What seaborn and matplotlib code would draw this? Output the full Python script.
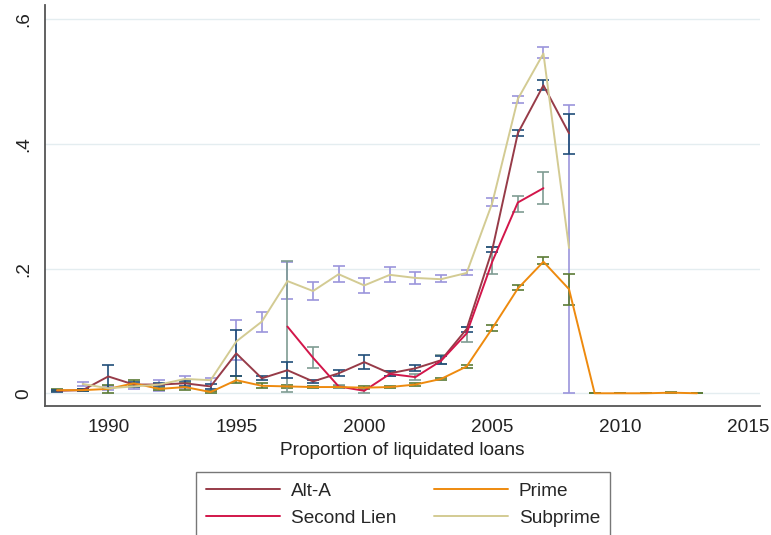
import numpy as np
import pandas as pd
import matplotlib
matplotlib.use("Agg")
import matplotlib.pyplot as plt
import seaborn as sns
from matplotlib.lines import Line2D

# ---------------- data ----------------
alta_years = list(range(1988, 2009))
alta_val = [0.004, 0.005, 0.027, 0.014, 0.014, 0.016, 0.011, 0.064, 0.024, 0.037,
            0.019, 0.032, 0.050, 0.032, 0.040, 0.053, 0.103, 0.230, 0.417, 0.494, 0.417]
alta_lo = [0.002, 0.003, 0.009, 0.010, 0.011, 0.012, 0.007, 0.028, 0.021, 0.025,
           0.016, 0.027, 0.039, 0.028, 0.035, 0.047, 0.099, 0.226, 0.412, 0.487, 0.384]
alta_hi = [0.006, 0.007, 0.045, 0.018, 0.017, 0.020, 0.015, 0.101, 0.027, 0.050,
           0.022, 0.037, 0.061, 0.036, 0.045, 0.059, 0.107, 0.235, 0.422, 0.503, 0.448]

sl_years = list(range(1997, 2008))
sl_val = [0.107, 0.057, 0.011, 0.004, 0.031, 0.026, 0.052, 0.096, 0.211, 0.306, 0.329]
sl_lo = [0.002, 0.040, 0.008, 0.001, 0.027, 0.022, 0.047, 0.082, 0.192, 0.290, 0.304]
sl_hi = [0.212, 0.075, 0.014, 0.008, 0.036, 0.031, 0.061, 0.107, 0.235, 0.317, 0.355]

prime_years = list(range(1988, 2014))
prime_val = [0.005, 0.005, 0.007, 0.016, 0.007, 0.010, 0.002, 0.021, 0.012, 0.011,
             0.010, 0.010, 0.009, 0.010, 0.014, 0.023, 0.043, 0.104, 0.168, 0.211,
             0.167, 0.000, 0.000, 0.000, 0.001, 0.000]
prime_lo = [0.003, 0.003, 0.001, 0.011, 0.005, 0.005, 0.001, 0.017, 0.008, 0.009,
            0.008, 0.008, 0.007, 0.008, 0.012, 0.021, 0.041, 0.100, 0.165, 0.207,
            0.142, 0.000, 0.000, 0.000, 0.000, 0.000]
prime_hi = [0.007, 0.007, 0.013, 0.021, 0.009, 0.016, 0.004, 0.027, 0.016, 0.013,
            0.012, 0.012, 0.011, 0.012, 0.016, 0.025, 0.045, 0.110, 0.173, 0.219,
            0.192, 0.001, 0.001, 0.001, 0.002, 0.001]

sub_years = list(range(1989, 2009))
sub_val = [0.015, 0.008, 0.011, 0.014, 0.023, 0.021, 0.083, 0.115, 0.180, 0.164,
           0.191, 0.173, 0.190, 0.185, 0.183, 0.193, 0.305, 0.472, 0.545, 0.233]
sub_lo = [0.012, 0.005, 0.007, 0.004, 0.008, 0.003, 0.053, 0.098, 0.151, 0.150,
          0.178, 0.161, 0.178, 0.175, 0.178, 0.189, 0.301, 0.466, 0.538, 0.000]
sub_hi = [0.018, 0.011, 0.015, 0.021, 0.028, 0.025, 0.117, 0.131, 0.211, 0.178,
          0.204, 0.185, 0.203, 0.195, 0.189, 0.198, 0.313, 0.477, 0.555, 0.463]

labels = ["Alt-A", "Second Lien", "Prime", "Subprime"]
yticks = [0, 0.2, 0.4, 0.6]
ytick_labels = ["0", ".2", ".4", ".6"]
xticks = [1990, 1995, 2000, 2005, 2010, 2015]

# ---------------- build table ----------------
series = {
    "Alt-A": (alta_years, alta_val, alta_lo, alta_hi),
    "Second Lien": (sl_years, sl_val, sl_lo, sl_hi),
    "Prime": (prime_years, prime_val, prime_lo, prime_hi),
    "Subprime": (sub_years, sub_val, sub_lo, sub_hi),
}
frames = []
for name, (yr, v, lo, hi) in series.items():
    frames.append(pd.DataFrame({"year": yr, "value": v, "lo": lo, "hi": hi, "type": name}))
df = pd.concat(frames, ignore_index=True)

line_colors = {"Alt-A": "#973b48", "Second Lien": "#d2164a",
               "Prime": "#ee8a0e", "Subprime": "#d3cb93"}
bar_colors = {"Alt-A": "#1f4d78", "Second Lien": "#7e9c92",
              "Prime": "#5a7a34", "Subprime": "#9a94dc"}

# ---------------- plot ----------------
sns.set_style("white")
plt.rcParams["font.family"] = ["Liberation Sans", "DejaVu Sans"]
FS = 13.7

fig = plt.figure(figsize=(7.71, 5.35), dpi=100)
ax = fig.add_axes([45 / 771, 1 - 406 / 535, (760 - 45) / 771, (406 - 5) / 535])

for y in yticks:
    ax.axhline(y, color="#e4edf0", lw=1.0, zorder=0)

draw_order = ["Subprime", "Prime", "Second Lien", "Alt-A"]
for name in draw_order:
    d = df[df["type"] == name]
    ax.errorbar(d["year"], d["value"],
                yerr=[d["value"] - d["lo"], d["hi"] - d["value"]],
                fmt="none", ecolor=bar_colors[name], elinewidth=1.4,
                capsize=4.2, capthick=1.4, alpha=0.85, zorder=2)

sns.lineplot(data=df, x="year", y="value", hue="type", hue_order=labels,
             palette=line_colors, estimator=None, sort=True, lw=1.4,
             legend=False, ax=ax, zorder=3)

ax.set_xlim(1987.53, 2015.46)
ax.set_ylim(-0.0204, 0.6228)
ax.set_xticks(xticks)
ax.set_yticks(yticks)
ax.set_yticklabels(ytick_labels, rotation=90, va="center")
ax.tick_params(axis="both", direction="out", length=5, width=1.2,
               color="#555555", labelsize=FS, labelcolor="#222222", pad=4)
ax.set_xlabel("Proportion of liquidated loans", fontsize=FS, color="#222222", labelpad=5)
ax.set_ylabel("")

for s in ["top", "right"]:
    ax.spines[s].set_visible(False)
for s in ["left", "bottom"]:
    ax.spines[s].set_color("#555555")
    ax.spines[s].set_linewidth(1.3)

handles = [Line2D([], [], color=line_colors[n], lw=1.4) for n in labels]
leg = fig.legend(handles, labels, loc="upper center", ncol=2,
                 bbox_to_anchor=(403 / 771, 1 - 472 / 535),
                 borderaxespad=0.0,
                 frameon=True, fancybox=False, fontsize=FS,
                 handlelength=3.9, handletextpad=0.55, columnspacing=2.0,
                 labelspacing=0.5, borderpad=0.55)
leg.get_frame().set_edgecolor("#555555")
leg.get_frame().set_linewidth(1.0)

fig.savefig("out.png", dpi=100)
